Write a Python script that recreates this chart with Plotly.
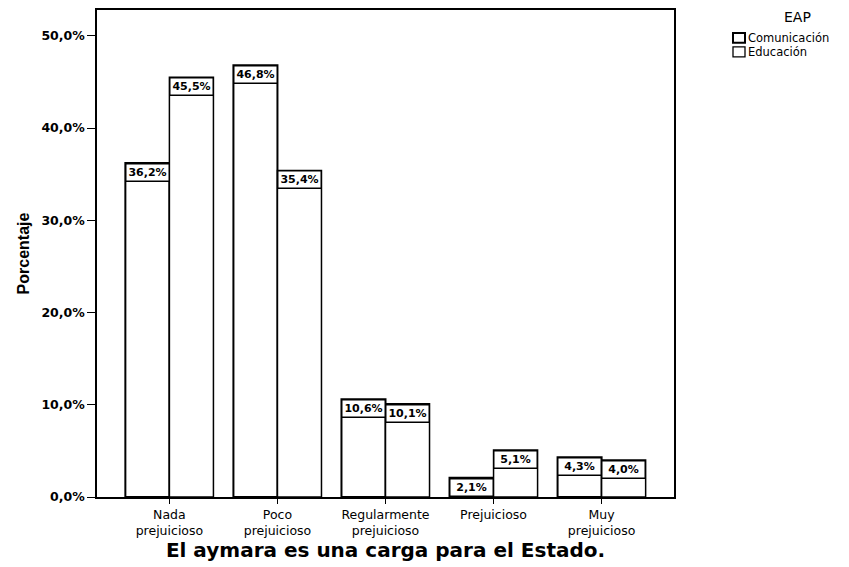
import plotly.graph_objects as go

categories = ["Nada<br>prejuicioso", "Poco<br>prejuicioso", "Regularmente<br>prejuicioso", "Prejuicioso", "Muy<br>prejuicioso"]
comunicacion = [36.2, 46.8, 10.6, 2.1, 4.3]
educacion = [45.5, 35.4, 10.1, 5.1, 4.0]
series_names = ["Comunicación", "Educación"]
legend_title = "EAP"
y_ticks = [0, 10, 20, 30, 40, 50]
y_tick_labels = ["0,0%", "10,0%", "20,0%", "30,0%", "40,0%", "50,0%"]

WIDE = "DejaVu Sans"
FONT = "Liberation Sans"
L, R, T, B = 97, 175, 8, 70
W, H = 849, 567
PW, PH = W - L - R, H - T - B


def px_x(px):
    return (px - L) / PW


def px_y(py):
    return (H - B - py) / PH


fig = go.Figure()
xs = list(range(len(categories)))
fig.add_trace(go.Bar(x=xs, y=comunicacion, name=series_names[0], showlegend=False,
                     marker=dict(color="white", line=dict(color="black", width=2))))
fig.add_trace(go.Bar(x=xs, y=educacion, name=series_names[1], showlegend=False,
                     marker=dict(color="white", line=dict(color="black", width=1.5))))

bargap = 0.185
off = (1 - bargap) / 4
annotations = []
for vals, sgn in ((comunicacion, -1), (educacion, 1)):
    for i, v in enumerate(vals):
        annotations.append(dict(
            x=i + sgn * off, y=v, xref="x", yref="y",
            text="<b>" + f"{v:.1f}".replace(".", ",") + "%</b>",
            showarrow=False, yanchor="top", xanchor="center",
            font=dict(family=WIDE, size=11, color="black"),
            bgcolor="white", bordercolor="black", borderwidth=1.5,
            borderpad=1, width=40, height=14))

# manual legend
annotations.append(dict(x=px_x(797), y=px_y(15), xref="paper", yref="paper",
                        text=legend_title, showarrow=False, xanchor="center", yanchor="middle",
                        font=dict(family=WIDE, size=14, color="black")))
shapes = []
for k, name in enumerate(series_names):
    cy = 36 + 14 * k
    annotations.append(dict(x=px_x(746), y=px_y(cy), xref="paper", yref="paper",
                            text=name, showarrow=False, xanchor="left", yanchor="middle",
                            font=dict(family=WIDE, size=11.5, color="black")))
    shapes.append(dict(type="rect", xref="paper", yref="paper",
                       x0=px_x(733), x1=px_x(745), y0=px_y(cy + 5), y1=px_y(cy - 5),
                       fillcolor="white", line=dict(color="black", width=2 if k == 0 else 1.3)))

fig.update_layout(
    width=W, height=H,
    margin=dict(l=L, r=R, t=T, b=B),
    paper_bgcolor="white", plot_bgcolor="white",
    barmode="group", bargap=bargap, bargroupgap=0,
    font=dict(family=FONT, color="black"),
    annotations=annotations, shapes=shapes,
    showlegend=False,
    xaxis=dict(
        tickmode="array", tickvals=xs, ticktext=categories,
        range=[-0.67, 4.67], showline=True, linecolor="black", linewidth=1.5,
        mirror=True, ticks="outside", ticklen=5, tickcolor="black",
        tickfont=dict(family=WIDE, size=12.5, color="black"),
        title=dict(text="<b>El aymara es una carga para el Estado.</b>",
                   font=dict(family=WIDE, size=20, color="black"), standoff=3),
        showgrid=False, zeroline=False),
    yaxis=dict(
        tickmode="array", tickvals=y_ticks, ticktext=["<b>" + t + "</b>" for t in y_tick_labels],
        range=[0, 52.8], showline=True, linecolor="black", linewidth=1.5,
        mirror=True, ticks="outside", ticklen=8, tickcolor="black",
        tickfont=dict(family=WIDE, size=12.5, color="black"),
        title=dict(text="<b>Porcentaje</b>",
                   font=dict(family=FONT, size=16, color="black"), standoff=8),
        showgrid=False, zeroline=False),
)
fig.write_html("out.html")
